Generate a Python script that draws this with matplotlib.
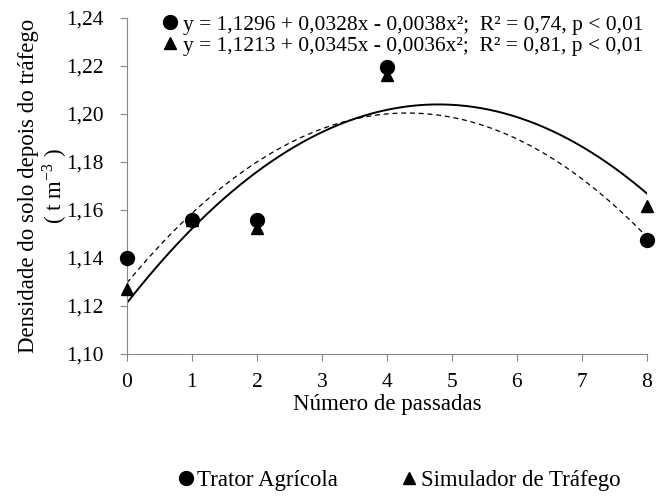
import matplotlib.pyplot as plt
import numpy as np

passadas = [0, 1, 2, 4, 8]
trator = [1.140, 1.156, 1.156, 1.2195, 1.1475]
simulador = [1.127, 1.156, 1.1525, 1.2163, 1.1615]

# regression coefficients (c0, c1, c2) as printed on the chart
coef_trator = [1.1296, 0.0328, -0.0038]
coef_simulador = [1.1213, 0.0345, -0.0036]

eq_trator = 'y = 1,1296 + 0,0328x - 0,0038x²;  R² = 0,74, p < 0,01'
eq_simulador = 'y = 1,1213 + 0,0345x - 0,0036x²;  R² = 0,81, p < 0,01'

yticks = [1.10, 1.12, 1.14, 1.16, 1.18, 1.20, 1.22, 1.24]

plt.rcParams['font.family'] = ['Liberation Serif', 'DejaVu Serif']
plt.rcParams['font.size'] = 15.5
plt.rcParams['mathtext.fontset'] = 'stix'

fig = plt.figure(figsize=(6.58, 4.97), dpi=100)
ax = fig.add_axes([0.193, 0.2877, 0.790, 0.6763])

xs = np.linspace(0, 8, 200)
ax.plot(xs, np.polyval(coef_trator[::-1], xs), color='k', lw=0.9, ls=(0, (4, 3)))
ax.plot(xs, np.polyval(coef_simulador[::-1], xs), color='k', lw=1.4)

h1, = ax.plot(passadas, trator, 'o', color='k', ms=10, clip_on=False, zorder=5)
h2, = ax.plot(passadas, simulador, '^', color='k', ms=8.5, clip_on=False, zorder=5)

ax.set_xlim(0, 8)
ax.set_ylim(1.10, 1.24)
ax.set_xticks(range(0, 9))
ax.set_yticks(yticks)
ax.set_yticklabels([('%.2f' % v).replace('.', ',') for v in yticks])

for s in ['top', 'right']:
    ax.spines[s].set_visible(False)
for s in ['left', 'bottom']:
    ax.spines[s].set_color('#888888')
ax.tick_params(colors='#888888', labelcolor='k', length=5, direction='out')
ax.tick_params(axis='x', pad=9)
ax.tick_params(axis='y', pad=12)

ax.set_xlabel('Número de passadas', labelpad=1, fontsize=16.5)
ax.set_ylabel('Densidade do solo depois do tráfego\n( t m$^{\\mathregular{-3}}$ )', labelpad=-2,
              linespacing=1.05, fontsize=16.5)

ax.legend([h1, h2], [eq_trator, eq_simulador], loc='upper right', bbox_to_anchor=(1.01, 1.035),
          frameon=False, handletextpad=0.1, handlelength=1.0, labelspacing=0.05,
          borderaxespad=0.0, fontsize=15.5)

fig.legend([h1, h2], ['Trator Agrícola', 'Simulador de Tráfego'], loc='lower center',
           bbox_to_anchor=(0.604, -0.03), ncol=2, frameon=False,
           handletextpad=0.0, columnspacing=2.6, handlelength=1.0, fontsize=16.5)

fig.savefig('out.png', dpi=100)
